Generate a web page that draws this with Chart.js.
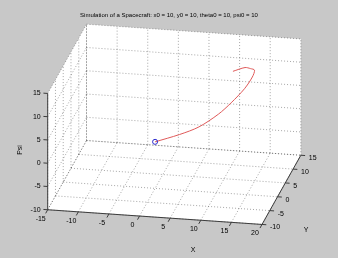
<!DOCTYPE html>
<html>
<head>
<meta charset="utf-8">
<script src="https://cdn.jsdelivr.net/npm/chart.js@4"></script>
<style>
  html, body { margin: 0; padding: 0; background: #c8c8c8; }
  canvas { display: block; }
</style>
</head>
<body>
<canvas id="chart" width="338" height="258"></canvas>
<script>
// ==================== DATA ====================
const titleText = 'Simulation of a Spacecraft: x0 = 10, y0 = 10, theta0 = 10, psi0 = 10';
const xTicks = [-15, -10, -5, 0, 5, 10, 15, 20];
const yTicks = [-10, -5, 0, 5, 10, 15];
const zTicks = [-10, -5, 0, 5, 10, 15];

// trajectory (x, y, psi)
const pathX   = [0, 3.6, 6.4, 9.2, 10.9, 12.7, 13.6, 13.7, 12.9, 11.9, 9.8];
const pathY   = [0, 1.5, 3.0, 4.5, 6.0, 7.5, 9.0, 10.0, 10.6, 11.0, 11.5];
const pathPsi = [0, 1.0, 2.0, 4.1, 5.8, 8.1, 9.8, 10.7, 10.6, 10.5, 9.2];

// ==================== PROJECTION ====================
const view = { u0: 154.65, v0: 142.36, ex: [6.31, 0.437], ey: [1.6, -2.88], ez: [0, -4.84] };

function project(x, y, z) {
    return {
        x: view.u0 + x * view.ex[0] + y * view.ey[0] + z * view.ez[0],
        y: view.v0 + x * view.ex[1] + y * view.ey[1] + z * view.ez[1]
    };
}

const xMin = xTicks[0], xMax = xTicks[xTicks.length - 1];
const yMin = yTicks[0], yMax = yTicks[yTicks.length - 1];
const zMin = zTicks[0], zMax = zTicks[zTicks.length - 1];

// list of 3D segments -> points with gaps
function segments(list) {
    const pts = [];
    list.forEach(([a, b]) => {
        pts.push(project(...a), project(...b), { x: null, y: null });
    });
    return pts;
}

// ==================== GRID ====================
const gridSegs = [];
xTicks.forEach(t => {
    gridSegs.push([[t, yMin, zMin], [t, yMax, zMin]]);   // floor
    gridSegs.push([[t, yMax, zMin], [t, yMax, zMax]]);   // back wall
});
yTicks.forEach(t => {
    gridSegs.push([[xMin, t, zMin], [xMax, t, zMin]]);   // floor
    gridSegs.push([[xMin, t, zMin], [xMin, t, zMax]]);   // left wall
});
zTicks.forEach(t => {
    gridSegs.push([[xMin, yMax, t], [xMax, yMax, t]]);   // back wall
    gridSegs.push([[xMin, yMin, t], [xMin, yMax, t]]);   // left wall
});

// ==================== AXES ====================
const axisSegs = [
    [[xMin, yMin, zMin], [xMax, yMin, zMin]],
    [[xMax, yMin, zMin], [xMax, yMax, zMin]],
    [[xMin, yMin, zMin], [xMin, yMin, zMax]]
];
xTicks.forEach(t => axisSegs.push([[t, yMin, zMin], [t, yMin - 1.3, zMin]]));
yTicks.forEach(t => axisSegs.push([[xMax, t, zMin], [xMax + 0.7, t, zMin]]));
zTicks.forEach(t => axisSegs.push([[xMin, yMin, t], [xMin - 0.7, yMin, t]]));

const pathPts = pathX.map((x, i) => project(x, pathY[i], pathPsi[i]));

// ==================== PLUGINS ====================
const px = (chart, p) => [chart.scales.x.getPixelForValue(p.x), chart.scales.y.getPixelForValue(p.y)];

const wallsPlugin = {
    id: 'walls',
    beforeDatasetsDraw(chart) {
        const ctx = chart.ctx;
        const walls = [
            [[xMin, yMin, zMin], [xMax, yMin, zMin], [xMax, yMax, zMin], [xMin, yMax, zMin]],
            [[xMin, yMax, zMin], [xMax, yMax, zMin], [xMax, yMax, zMax], [xMin, yMax, zMax]],
            [[xMin, yMin, zMin], [xMin, yMax, zMin], [xMin, yMax, zMax], [xMin, yMin, zMax]]
        ];
        ctx.save();
        ctx.fillStyle = '#ffffff';
        walls.forEach(w => {
            ctx.beginPath();
            w.forEach((c, i) => {
                const [u, v] = px(chart, project(...c));
                if (i === 0) ctx.moveTo(u, v); else ctx.lineTo(u, v);
            });
            ctx.closePath();
            ctx.fill();
        });
        ctx.restore();
    }
};

const labelsPlugin = {
    id: 'labels3d',
    afterDatasetsDraw(chart) {
        const ctx = chart.ctx;
        ctx.save();
        ctx.fillStyle = '#000';
        ctx.font = '7px "Liberation Sans", Arial, sans-serif';

        ctx.textAlign = 'center';
        ctx.textBaseline = 'middle';
        xTicks.forEach(t => {
            const [u, v] = px(chart, project(t, yMin, zMin));
            ctx.fillText(String(t), u - 7, v + 9);
        });

        ctx.textAlign = 'left';
        yTicks.forEach(t => {
            const [u, v] = px(chart, project(xMax, t, zMin));
            ctx.fillText(String(t), u + 8, v + 3);
        });

        ctx.textAlign = 'right';
        zTicks.forEach(t => {
            const [u, v] = px(chart, project(xMin, yMin, t));
            ctx.fillText(String(t), u - 7, v);
        });

        // axis names
        ctx.textAlign = 'center';
        ctx.fillText('X', 193, 250);
        ctx.fillText('Y', 306, 230);
        ctx.save();
        ctx.translate(20, 150);
        ctx.rotate(-Math.PI / 2);
        ctx.fillText('Psi', 0, 0);
        ctx.restore();

        ctx.font = '6px "Liberation Sans", Arial, sans-serif';
        ctx.fillText(titleText, 169, 15.5);
        ctx.restore();
    }
};

// ==================== CHART ====================
new Chart(document.getElementById('chart'), {
    type: 'scatter',
    data: {
        datasets: [
            {
                data: [pathPts[0]],
                pointRadius: 2.5,
                pointBorderColor: '#2a2acf',
                pointBackgroundColor: 'rgba(0,0,0,0)',
                pointBorderWidth: 1,
                order: 0
            },
            {
                data: pathPts,
                showLine: true,
                tension: 0.3,
                borderColor: '#e05a5a',
                borderWidth: 1,
                pointRadius: 0,
                order: 1
            },
            {
                data: segments(axisSegs),
                showLine: true,
                spanGaps: false,
                borderColor: '#3c3c3c',
                borderWidth: 1,
                pointRadius: 0,
                order: 2
            },
            {
                data: segments(gridSegs),
                showLine: true,
                spanGaps: false,
                borderColor: 'rgba(60,60,60,0.45)',
                borderWidth: 1,
                borderDash: [1, 2],
                pointRadius: 0,
                order: 3
            }
        ]
    },
    options: {
        responsive: false,
        animation: false,
        events: [],
        layout: { padding: 0 },
        scales: {
            x: { type: 'linear', min: 0, max: 338, display: false },
            y: { type: 'linear', min: 0, max: 258, reverse: true, display: false }
        },
        plugins: {
            legend: { display: false },
            tooltip: { enabled: false },
            title: { display: false }
        }
    },
    plugins: [wallsPlugin, labelsPlugin]
});
</script>
</body>
</html>
